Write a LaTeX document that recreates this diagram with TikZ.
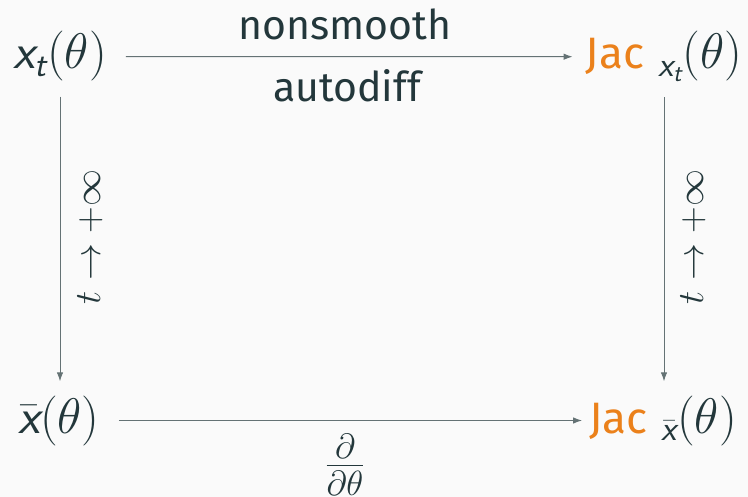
\RequirePackage{fix-cm}
\documentclass[tikz,border=0pt]{standalone}
\usepackage{fontspec}
\setmainfont{Fira Sans}
\usepackage{amsmath}
\usetikzlibrary{arrows.meta}
\definecolor{mteal}{HTML}{23373B}
\definecolor{morange}{HTML}{EB811B}
\definecolor{bgc}{HTML}{FAFAFA}
\newcommand\vx{\text{\sffamily\slshape x}}
\newcommand\vt{\text{\sffamily\slshape t}}
\newcommand\jac{\text{\fontsize{44}{52}\selectfont\color{morange}Jac}}
\tikzset{
  obj/.style={inner sep=0pt, text=mteal, font=\fontsize{50}{60}\selectfont, anchor=base},
  lab/.style={inner sep=0pt, text=mteal, font=\fontsize{41}{50}\selectfont, anchor=base},
  mlab/.style={inner sep=0pt, text=mteal, font=\fontsize{37}{44}\selectfont},
  arr/.style={draw=mteal!70!bgc, line width=1pt, -{Latex[length=9pt,width=6.5pt]}}
}
\begin{document}
\begin{tikzpicture}[x=1pt,y=-1pt]
\fill[bgc] (0,0) rectangle (748,497);
\useasboundingbox (0,0) rectangle (748,497);
\node[obj] (A) at (60,69) {$\vx_{\vt}(\theta)$};
\node[obj] (B) at (664,69) {$\jac\;{}_{\vx_{\vt}}(\theta)$};
\node[obj] (C) at (59,433) {$\bar{\vx}(\theta)$};
\node[obj] (D) at (663,433) {$\jac\;{}_{\bar{\vx}}(\theta)$};
\node[lab] (n1) at (345,40) {nonsmooth};
\node[lab] (n2) at (347,102) {autodiff};
\node[obj] (fr) at (345,478) {$\frac{\partial}{\partial\theta}$};
\node[mlab, rotate=90] (l1) at (90,237) {$t\to+\infty$};
\node[mlab, rotate=90] (l2) at (693,237) {$t\to+\infty$};
\draw[arr, shorten <=19pt, shorten >=13pt] (A) -- (B);
\draw[arr, shorten <=19pt, shorten >=7pt] (C) -- (D);
\draw[arr, shorten <=15pt, shorten >=14pt] (A.south) -- (A.south |- C.north);
\draw[arr, shorten <=15pt, shorten >=14pt] (B.south) -- (B.south |- D.north);
\end{tikzpicture}
\end{document}
